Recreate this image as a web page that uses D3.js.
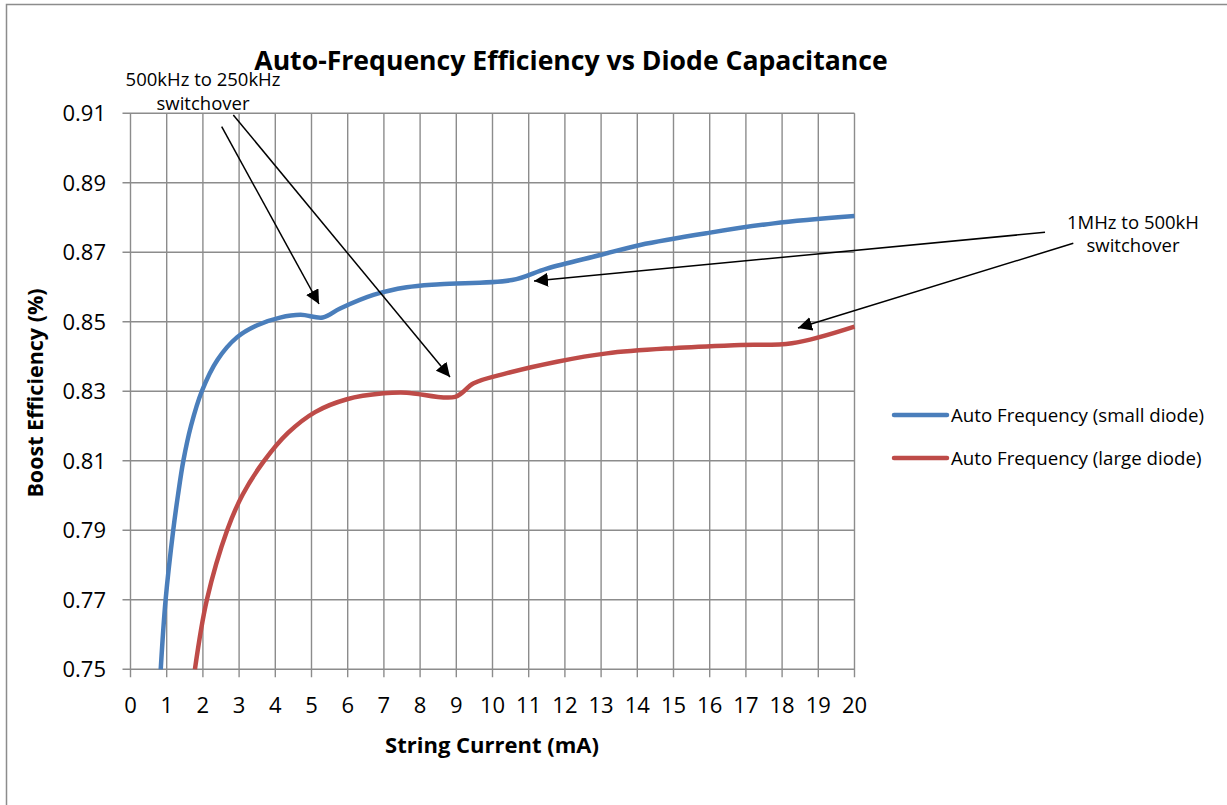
<!DOCTYPE html>
<html><head><meta charset="utf-8">
<script src="https://cdn.jsdelivr.net/npm/d3@7/dist/d3.min.js"></script>
<style>body{margin:0;background:#fff}svg{display:block}text{font-family:"Open Sans",sans-serif;fill:#000}</style>
</head><body>
<svg id="c" width="1227" height="805"></svg>
<script>
// Data
const smallX = [0.835,0.97,1.18,1.31,1.46,1.67,1.97,2.4,2.94,3.5,4.13,4.7,5.31,5.79,6.71,7.63,8.55,10.54,11.5,12.98,14.08,15.93,17.77,20.0];
const smallY = [0.750,0.770,0.790,0.800,0.810,0.820,0.830,0.839,0.8455,0.849,0.8512,0.852,0.8512,0.8538,0.8577,0.8599,0.8608,0.8620,0.8653,0.8692,0.8721,0.8755,0.8783,0.8804];
const largeX = [1.78,2.11,2.67,3.1,3.68,4.35,5.1,5.98,6.99,7.63,8.97,9.48,10.4,11.78,13.16,15.0,16.85,18.27,20.0];
const largeY = [0.750,0.770,0.790,0.8003,0.8098,0.8180,0.8240,0.8277,0.8294,0.8296,0.8284,0.8323,0.8352,0.8385,0.8409,0.8424,0.8433,0.8438,0.8486];
const xTicks = d3.range(0,21);
const yTicks = [0.75,0.77,0.79,0.81,0.83,0.85,0.87,0.89,0.91];
const seriesNames = ["Auto Frequency (small diode)","Auto Frequency (large diode)"];
const seriesColors = ["#4a7ebb","#be4b48"];
const title = "Auto-Frequency Efficiency vs Diode Capacitance";
const xTitle = "String Current (mA)";
const yTitle = "Boost Efficiency (%)";
const ann1Lines = ["500kHz to 250kHz","switchover"];
const ann2Lines = ["1MHz to 500kH","switchover"];

const svg = d3.select("#c");
const L=130.5, R=854.5, T=113.2, B=669.3;
const x = d3.scaleLinear().domain([0,20]).range([L,R]);
const y = d3.scaleLinear().domain([0.75,0.91]).range([B,T]);

svg.append("rect").attr("x",6.5).attr("y",4.5).attr("width",1240).attr("height",820)
  .attr("fill","none").attr("stroke","#8c8c8c").attr("stroke-width",1.5);

const grid = svg.append("g").attr("stroke","#8c8c8c").attr("stroke-width",1.4);
grid.selectAll(".v").data(xTicks).join("line").attr("x1",d=>x(d)).attr("x2",d=>x(d)).attr("y1",T).attr("y2",B+8);
grid.selectAll(".h").data(yTicks).join("line").attr("x1",L-8).attr("x2",R).attr("y1",d=>y(d)).attr("y2",d=>y(d));

svg.append("g").selectAll("text").data(yTicks).join("text")
  .attr("x",106).attr("y",d=>y(d)).attr("dy","0.36em").attr("text-anchor","end")
  .style("font-size","22px").text(d=>d3.format(".2f")(d));
svg.append("g").selectAll("text").data(xTicks).join("text")
  .attr("x",d=>x(d)).attr("y",705).attr("dy","0.36em").attr("text-anchor","middle")
  .style("font-size","22px").text(d=>d);

svg.append("text").attr("x",492).attr("y",745).attr("dy","0.36em").attr("text-anchor","middle")
  .style("font-size","22px").style("font-weight","bold").text(xTitle);
svg.append("text").attr("transform","translate(35,393) rotate(-90)").attr("dy","0.36em").attr("text-anchor","middle")
  .style("font-size","21.5px").style("font-weight","bold").text(yTitle);
svg.append("text").attr("x",571).attr("y",60).attr("dy","0.36em").attr("text-anchor","middle")
  .style("font-size","26.6px").style("font-weight","bold").text(title);

const line = d3.line().x(d=>x(d[0])).y(d=>y(d[1])).curve(d3.curveCatmullRom.alpha(0.5));
const series = [d3.zip(smallX,smallY), d3.zip(largeX,largeY)];
svg.append("g").selectAll("path").data(series).join("path")
  .attr("d",line).attr("fill","none").attr("stroke",(d,i)=>seriesColors[i]).attr("stroke-width",4.5).attr("stroke-linejoin","round");

svg.append("defs").append("marker").attr("id","ah").attr("viewBox","0 0 10 10").attr("refX",10).attr("refY",5)
  .attr("markerWidth",14).attr("markerHeight",14).attr("markerUnits","userSpaceOnUse").attr("orient","auto")
  .append("path").attr("d","M0,0 L10,5 L0,10 Z").attr("fill","#000");
const arrows = [[221.7,126.7,319,304],[233.3,115,450,377],[1045,232.3,534,281],[1073.3,243.3,798,328]];
svg.append("g").selectAll("line").data(arrows).join("line")
  .attr("x1",d=>d[0]).attr("y1",d=>d[1]).attr("x2",d=>d[2]).attr("y2",d=>d[3])
  .attr("stroke","#000").attr("stroke-width",1.5).attr("marker-end","url(#ah)");

const a1 = svg.append("text").attr("text-anchor","middle").style("font-size","18.5px");
ann1Lines.forEach((t,i)=>a1.append("tspan").attr("x",203).attr("y",86+i*24).text(t));
const a2 = svg.append("text").attr("text-anchor","middle").style("font-size","18.5px");
ann2Lines.forEach((t,i)=>a2.append("tspan").attr("x",1133).attr("y",229+i*23).text(t));

const lg = svg.append("g");
seriesNames.forEach((n,i)=>{
  const yy = 415 + i*43;
  lg.append("line").attr("x1",894).attr("x2",947).attr("y1",yy).attr("y2",yy)
    .attr("stroke",seriesColors[i]).attr("stroke-width",4.5).attr("stroke-linecap","round");
  lg.append("text").attr("x",951).attr("y",yy).attr("dy","0.36em").style("font-size","18.7px").text(n);
});
</script>
</body></html>
